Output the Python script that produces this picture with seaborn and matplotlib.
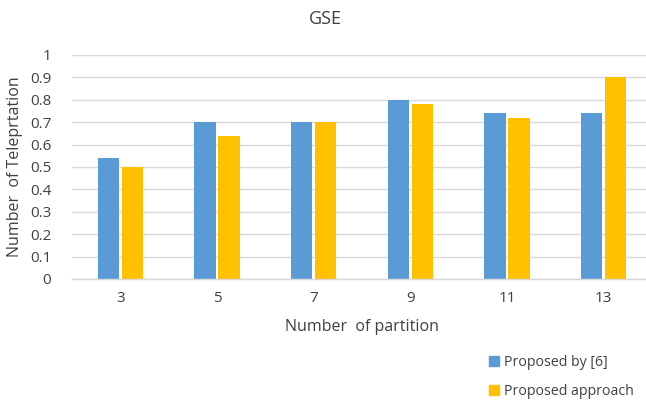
import matplotlib
matplotlib.use("Agg")
import matplotlib.pyplot as plt
from matplotlib.lines import Line2D
import seaborn as sns
import pandas as pd

partitions = ["3", "5", "7", "9", "11", "13"]
proposed_by_6 = [0.54, 0.70, 0.70, 0.80, 0.74, 0.74]
proposed_approach = [0.50, 0.64, 0.70, 0.78, 0.72, 0.90]
series_names = ["Proposed by [6]", "Proposed approach"]
y_ticks = [0, 0.1, 0.2, 0.3, 0.4, 0.5, 0.6, 0.7, 0.8, 0.9, 1]
y_tick_labels = ["0", "0.1", "0.2", "0.3", "0.4", "0.5", "0.6", "0.7", "0.8", "0.9", "1"]

colors = ["#5B9BD5", "#FFC000"]
text_color = "#404040"
grid_color = "#D9D9D9"

df = pd.DataFrame({
    "partition": partitions * 2,
    "value": proposed_by_6 + proposed_approach,
    "series": [series_names[0]] * len(partitions) + [series_names[1]] * len(partitions),
})

sns.set_theme(style="white")
plt.rcParams["font.family"] = ["Open Sans", "DejaVu Sans"]

W, H = 646, 403
fig = plt.figure(figsize=(W / 100, H / 100), dpi=100)
ax = fig.add_axes([72 / W, (H - 279) / H, (652 - 72) / W, (279 - 55) / H])

sns.barplot(data=df, x="partition", y="value", hue="series", order=partitions,
            hue_order=series_names, palette=colors, width=0.5, gap=0.12,
            saturation=1, ax=ax, legend=False, edgecolor="none")

ax.set_ylim(0, 1)
ax.set_yticks(y_ticks)
ax.set_yticklabels(y_tick_labels)
ax.yaxis.grid(True, color=grid_color, linewidth=1)
ax.set_axisbelow(True)
for s in ["top", "right", "left"]:
    ax.spines[s].set_visible(False)
ax.spines["bottom"].set_color(grid_color)
ax.spines["bottom"].set_linewidth(1)
ax.tick_params(axis="both", length=0, labelsize=11, colors=text_color)
ax.tick_params(axis="y", pad=15)
ax.tick_params(axis="x", pad=9)

ax.set_xlabel("Number  of partition", fontsize=11.5, color=text_color, labelpad=8)
ax.set_ylabel("Number  of Teleprtation", fontsize=11.5, color=text_color, labelpad=8)
ax.yaxis.set_label_coords(-(72 - 15) / (652 - 72), 0.5)
ax.xaxis.set_label_coords(0.5, -(327 - 279) / (279 - 55))
ax.xaxis.label.set_va("center")
ax.yaxis.label.set_va("center")

fig.text(325 / W, 1 - 19 / H, "GSE", ha="center", va="center",
         fontsize=13, color=text_color)

handles = [Line2D([0], [0], marker="s", linestyle="none", markersize=6.5,
                  markerfacecolor=c, markeredgecolor=c) for c in colors]
fig.legend(handles, series_names, loc="lower left",
           bbox_to_anchor=(473 / W, -9 / H), frameon=False, fontsize=10.2,
           labelcolor=text_color, handletextpad=0.1, labelspacing=1.0,
           handlelength=1.2)

fig.savefig("out.png", dpi=100)
